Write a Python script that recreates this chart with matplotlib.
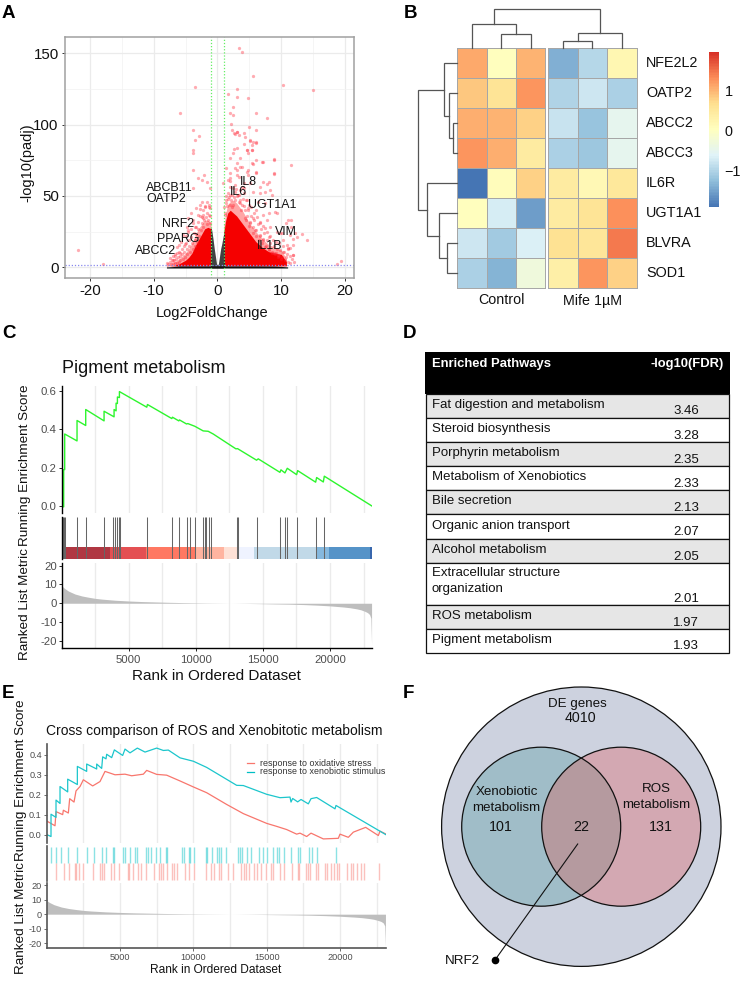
import matplotlib
matplotlib.use('Agg')
import matplotlib.pyplot as plt
import numpy as np
from matplotlib.colors import LinearSegmentedColormap, Normalize
from matplotlib.patches import Circle, Rectangle

plt.rcParams['font.family'] = ['Liberation Sans', 'DejaVu Sans']
plt.rcParams['axes.unicode_minus'] = False

W, H = 741, 981

# ---------- A: volcano ----------
vol_lfc = [3.3,3.9,5.5,10.3,14.9,-3.6,3.1,1.7,3.1,4.8,-5.9,2.5,6,2,2.5,7.7,2.1,5,-3.9,6,3.1,2.6,4.2,-2.9,-3.5,3.4,5.1,5.6,6,
           -3.8,-3.8,2.6,4.6,5.4,8.9,7,11.5,3.6,5.6,-3.8,-2.1,8.8,1.4,3,4.6,-2.5,-1.2,0.9,1.9,7.7,6.7,8.5,-3.8,-21.8,-17.9,18.7,19.3,
           14.1,13.2,11.5,10.7,12.2,11.9,9.8,11.1,11.9,9.3,
           -3,-1.7,-2.4,-2.7,-3.3,-1.7,-4.1,-4.6,-1.2,-2.2,-3,-3.8,-1.4,-2.2,-4.8,-5.4,-6.4,-6.9,-5.9,-7.5,-6.7,-6.1,-4.6,-3.5,-5.1,
           2,3,4.8,6.1,7.2,8.8,8,5.1,6.7,7.5,5.6,4.1,2.5,2,8.2,6.4,7.5,4.8,6.1,7.2,8,9,7.7,5.6,6.7,8.2,9.3,7.5,5.9,10.1,11.1,11.6,10.3,
           10.9,11.4,12.4,11.9,10.3,11.4,11.9,9.5,8.8,8,7.2,6.7,5.1,4.3,3.5,2.7,4.6,3.3,1.4,1.2,
           2.2,3.1,2.7,4.3,5.1,6,4.1,5.4,4.6,5.4,3,2.5,3.5,4.8,2,3,3.8,5.4,6.1,2.7,4.8,2,1.7,3.3,4.1,6.1,7.2,8.9]
vol_p = [153.7,151.2,134.3,127.8,124,126.6,125.2,121.3,119.6,118.9,108.2,112.1,108.2,108,106.8,104.9,100.5,98.6,96,96.3,95,93.9,93.9,92,89.3,92.8,88.8,88.1,87.4,
         82.2,79.9,82.9,82.2,82.2,75.5,74,72,70.6,72.2,68.2,64.7,65.4,69.4,68.2,67,61.2,55.4,58.9,60.7,58.4,51.9,50.7,55.4,12.1,2.1,2.1,4.4,
         19.2,23.4,33.2,30.8,23.8,19.6,23.8,13.3,8.6,37.9,
         62.3,60,46,43.7,41.3,46,37.8,34.3,41.3,40.2,36.6,33.1,36.6,34.3,28.5,22.6,14.5,5.1,9.8,6.3,7.9,15.6,26,28.5,16.3,
         62.3,64.7,64.7,65.9,60,65.9,60,58.8,56.5,53,53,55.3,55.3,50.7,54.2,46,44.8,41.3,40.2,36.6,37.8,39,33.1,34.3,30.8,28.5,25,27.3,26,23.8,33.1,28.5,19.1,
         15.6,22.6,21.5,15.6,11,13.3,8.6,8.6,9.8,21.5,19.1,22.6,30.8,34.3,47.2,47.2,47.2,50.7,44.8,36.6,
         96.2,95,93.4,91.5,89.2,88,86.4,85.7,82.2,82.2,83.4,79.9,76.4,79.9,76.4,72.9,70.5,72.9,75.2,69.3,68.2,65.8,61.2,63.5,58.8,67,74,75.6]
# fringe of the dense cloud, estimated spot by spot
fringe_lfc = [1.1,1.3,1.2,1.4,1.6,1.5,1.7,1.9,1.8,2.1,2.3,2.2,2.0,2.6,2.8,2.5,2.7,3.1,2.9,3.3,3.5,3.2,3.6,3.8,4.0,3.7,3.9,4.3,4.1,4.4,4.2,
              4.6,4.8,4.5,4.9,5.1,5.3,5.0,5.2,5.6,5.8,5.5,5.7,6.1,6.3,6.0,6.2,6.6,6.8,6.5,6.7,7.1,7.3,7.0,7.2,7.6,7.8,7.5,7.7,8.1,8.3,8.0,8.2,
              8.6,8.8,8.5,8.7,9.1,9.3,9.0,9.2,9.6,9.8,9.5,9.7,10.1,10.4,10.0,10.3,10.6,10.9,10.7,11.1,11.0,11.4,11.3,11.7,12.0,
              -1.2,-1.3,-1.1,-1.5,-1.6,-1.4,-1.8,-1.9,-1.7,-2.1,-2.2,-2.0,-2.3,-2.4,-2.5,-2.6,-2.7,-2.8,-2.9,-3.0,-3.1,-3.2,-3.3,-3.4,-3.5,-3.6,-3.7,-3.8,-3.9,-4.0,
              -4.1,-4.2,-4.3,-4.4,-4.5,-4.6,-4.7,-4.8,-4.9,-5.0,-5.1,-5.2,-5.3,-5.4,-5.5,-5.6,-5.7,-5.8,-5.9,-6.0,-6.1,
              -6.2,-6.3,-6.4,-6.5,-6.6,-6.7,-6.8,-6.9,-7.0,-7.1,-7.3,-7.4,-7.7,-7.9]
fringe_p = [42,47,38,50,48,43,52,44,49,47,51,42,56,49,53,44,58,50,55,46,45,51,54,44,48,40,56,40,43,47,52,
            36,40,33,44,32,36,29,42,28,33,24,38,26,30,22,35,22,27,19,32,20,24,17,29,15,19,14,25,13,17,12,22,
            11,15,10,19,10,13,9,18,8,12,7,17,7,11,6,15,5,9,7,13,4,8,3,6,4,
            36,42,31,33,38,44,35,42,30,33,37,43,28,35,31,26,36,41,22,27,32,18,23,28,15,19,24,31,13,17,
            21,27,11,15,19,25,9,13,17,22,7,11,15,6,9,13,18,5,8,11,4,
            7,10,3,6,9,3,5,8,3,5,2,4,2,3]
cloud_r_x = [1,1.3,1.6,2,2.5,3,3.5,4,4.5,5,5.5,6,7,8,9,10,10.8]
cloud_r_in = [25,33,38,40,38,36,33,30,27,24,21,18,14,11,10,9,4]
cloud_r_out = [29,38,44,46,47,45,42,39,35,31,28,25,20,16,14,12,6]
cloud_l_x = [-8,-7,-6,-5,-4.5,-4,-3.5,-3,-2.5,-2,-1.5,-1]
cloud_l_in = [0.8,1.3,2.5,5,7,10,15,19,23,27,28,27]
cloud_l_out = [1.5,3,6,10,13,17,22,27,30,33,33,31]
ns_x = [-1.1,-0.9,-0.7,-0.5,-0.3,-0.15,0,0.15,0.3,0.5,0.7,0.9,1.1]
ns_top = [28,26,20,13,7,2.5,1.5,2.5,7,13,17,22,26]
base_x = [-8,-7,-6,6,9,11]
base_top = [0.3,0.5,1.0,1.0,0.9,0.3]
vol_labels = ['ABCB11','OATP2','NRF2','PPARG','ABCC2','IL8','IL6','UGT1A1','VIM','IL1B']
vol_label_x = [-7.5,-8.1,-6.2,-6.1,-9.7,4.8,3.3,8.6,10.7,8.2]
vol_label_y = [55.4,47.9,30.4,19.9,11.2,60,52.6,43.9,24.5,15]

# ---------- B: heatmap ----------
genes = ['NFE2L2','OATP2','ABCC2','ABCC3','IL6R','UGT1A1','BLVRA','SOD1']
groups = ['Control','Mife 1µM']
heat = np.array([
    [1.10,0.03,1.00,-1.40,-0.95,0.20],
    [0.85,0.60,1.25,-1.00,-0.75,-1.05],
    [1.05,1.00,0.80,-0.80,-1.20,-0.50],
    [1.25,1.05,0.45,-1.05,-1.15,-0.50],
    [-1.90,0.10,0.80,0.45,0.15,0.50],
    [0.05,-0.70,-1.55,0.45,0.60,1.30],
    [-0.75,-1.10,-0.65,0.65,0.55,1.45],
    [-1.05,-1.35,-0.30,0.35,1.25,0.80]])
# dendrogram merges: (low leaf position, high leaf position, height)
top_merges = [(1,2,0.36),(0,1.5,0.63),(3,4,0.19),(3.5,5,0.38),(0.75,4.25,1.0)]
left_merges = [(2,3,0.12),(1,2.5,0.22),(0,1.75,0.34),(6,7,0.25),(5,6.5,0.45),(4,5.75,0.75),(0.875,4.875,1.0)]

# ---------- C ----------
rank_metric_x = [1,50,200,500,1000,1500,2000,2500,3000,4000,5000,6000,7000,8000,9000,10000,11000,12000,12500,13000,
                 14000,15000,16000,17000,18000,19000,20000,21000,21500,22000,22300,22600,22800,22950,23050,23100]
rank_metric_y = [10.5,9,8,6.5,4.9,3.9,3.2,2.6,2.2,1.6,1.2,0.9,0.7,0.5,0.35,0.22,0.12,0.05,0,-0.03,
                 -0.12,-0.25,-0.38,-0.5,-0.7,-1,-1.4,-2,-2.4,-3,-3.5,-4.3,-5,-6,-8,-22]
c_rank = [1,149,149,224,224,1144,1144,1791,1791,3159,3159,3905,3905,4055,4055,4154,4154,4303,4303,6343,6393,8209,8259,8731,8781,
          9304,9403,9925,10547,10920,11294,12985,13110,14528,14652,16269,16344,16642,16816,17513,17587,18931,19005,19503,19577,23110]
c_es = [-0.003,-0.003,0.19,0.19,0.375,0.339,0.445,0.419,0.502,0.443,0.493,0.464,0.502,0.495,0.535,0.533,0.567,0.564,0.595,0.514,0.528,
        0.455,0.462,0.443,0.448,0.427,0.429,0.415,0.391,0.389,0.375,0.298,0.299,0.239,0.246,0.176,0.189,0.173,0.197,0.164,0.185,0.125,0.149,0.126,0.156,0.002]
c_hits = [50,100,149,224,1119,1791,3134,3856,4005,4129,4254,4353,6393,8209,8756,9328,9552,9950,10547,10647,10721,10995,11095,13060,13159,
          14577,16269,16667,16816,17563,18956,19528]
band_edges = [1,200,3582,6269,10000,12090,13186,14328,18931,19950,22985,23110]
band_colors = ['#7a1420','#ab2a36','#e34548','#ff7058','#ffb09a','#fee0d4','#eff3ff','#bdd7e7','#7db4dc','#4a8cc5','#2b5da8']

# ---------- D ----------
pathways = ['Fat digestion and metabolism','Steroid biosynthesis','Porphyrin metabolism','Metabolism of Xenobiotics','Bile secretion',
            'Organic anion transport','Alcohol metabolism','Extracellular structure\norganization','ROS metabolism','Pigment metabolism']
fdr = ['3.46','3.28','2.35','2.33','2.13','2.07','2.05','2.01','1.97','1.93']

# ---------- E ----------
teal_rank = [1,295,295,636,636,909,909,1432,1432,2091,2091,2727,2727,3409,3409,3750,3818,4045,4091,4432,4614,5182,5341,5682,6182,6705,7500,7955,
             8295,9091,10000,10909,12955,13409,15000,15909,16591,16659,16773,17114,17341,17841,18023,18409,19659,19727,23113]
teal_es = [0,-0.010,0.102,0.086,0.173,0.156,0.241,0.214,0.278,0.251,0.342,0.317,0.354,0.329,0.354,0.332,0.390,0.380,0.403,0.386,0.425,0.397,0.429,0.410,
           0.434,0.414,0.434,0.422,0.424,0.385,0.368,0.337,0.247,0.246,0.202,0.185,0.188,0.163,0.181,0.164,0.176,0.154,0.180,0.186,0.129,0.146,0]
red_rank = [1,568,636,1091,1136,1477,1568,1864,2000,2273,2500,3136,3636,3977,4659,5341,5795,6591,6818,7500,8182,9091,10000,10909,12273,13409,15000,
            15682,16364,17045,17273,17727,18023,18864,19886,20000,20568,20909,21750,22614,22727,23113]
red_es = [0.068,0.044,0.115,0.100,0.122,0.108,0.180,0.163,0.219,0.241,0.275,0.244,0.266,0.317,0.300,0.303,0.295,0.303,0.322,0.302,0.298,0.269,0.239,0.210,
          0.151,0.105,0.056,0.041,0.025,0.002,0.007,-0.010,0.007,-0.022,-0.019,0.002,-0.014,0.012,0.036,-0.005,0.017,0.003]
teal_hits = [296,637,955,1478,2092,2728,3250,3773,4046,4501,4592,5228,5365,5683,6024,6137,6774,6887,7115,7433,7728,8115,8206,9206,9388,9706,9774,10047,
             10842,10956,11274,11591,11750,11909,12204,13068,13182,13341,13659,13954,14477,14773,15046,15455,15682,15841,16182,16682,17114,17296,17909,18114,18409,19750]
red_hits = [614,1183,1546,1910,2001,2228,2501,3183,3637,3774,3910,4365,4592,4956,5569,5638,5910,6251,6410,6774,7320,7638,7774,7911,8183,8547,8683,8865,9434,9706,
            10070,10843,11184,11411,11752,11909,12341,12727,13227,13477,13568,13818,14159,14318,14591,14932,15295,15409,15909,16182,16750,17114,17205,17682,17841,17955,
            18364,18523,18955,19137,19410,19569,19818,19955,20455,20728,20910,21137,21409,21660,22683]

# ---------- F ----------
venn_titles = ['DE genes','Xenobiotic\nmetabolism','ROS\nmetabolism']
venn_counts = ['4010','101','22','131']


fig = plt.figure(figsize=(W/100, H/100), dpi=100, facecolor='white')

def pax(x0, y0, x1, y1, **kw):
    return fig.add_axes([x0/W, 1-y1/H, (x1-x0)/W, (y1-y0)/H], **kw)

ov = fig.add_axes([0, 0, 1, 1], zorder=20)
ov.set_xlim(0, W); ov.set_ylim(H, 0); ov.axis('off'); ov.patch.set_alpha(0)

for t, x, y in [('A',2,14),('B',404,14),('C',2,334),('D',403,333),('E',2,693),('F',403,693)]:
    ov.text(x, y, t, fontsize=13.5, fontweight='bold', va='center', ha='left', color='black')

# A
ax = pax(65, 37, 354, 278)
ax.set_xlim(-23.9, 21.4); ax.set_ylim(-7.5, 161.4)
ax.set_xticks([-20,-10,0,10,20]); ax.set_yticks([0,50,100,150])
ax.set_xticks([-15,-5,5,15], minor=True); ax.set_yticks([25,75,125], minor=True)
ax.grid(True, which='major', color='#ebebeb', lw=0.9); ax.grid(True, which='minor', color='#f2f2f2', lw=0.5)
ax.set_axisbelow(True)
ax.tick_params(which='minor', length=0)
ax.tick_params(which='major', labelsize=10.8, length=2.5, color='#333333', width=0.7, pad=2, labelcolor='#111111')
for s in ax.spines.values():
    s.set_color('#a0a0a0'); s.set_linewidth(1.1)
ax.fill_between(cloud_r_x, 1.0, cloud_r_out, color='#ff0000', alpha=0.35, lw=0)
ax.fill_between(cloud_l_x, 1.0, cloud_l_out, color='#ff0000', alpha=0.35, lw=0)
ax.fill_between(cloud_r_x, 1.0, cloud_r_in, color='#f50000', lw=0)
ax.fill_between(cloud_l_x, 1.0, cloud_l_in, color='#f50000', lw=0)
ax.scatter(fringe_lfc, fringe_p, s=5.5, color='#ff2030', alpha=0.38, lw=0)
ax.scatter(vol_lfc, vol_p, s=5.5, color='#ff3040', alpha=0.4, lw=0)
ax.fill_between(ns_x, -0.5, ns_top, color='#111111', alpha=0.8, lw=0)
ax.fill_between(base_x, -0.5, base_top, color='#111111', lw=0)
ax.axvline(-1, color='#66ee66', lw=0.9, ls=(0,(1,1.5)))
ax.axvline(1, color='#66ee66', lw=0.9, ls=(0,(1,1.5)))
ax.axhline(1.3, color='#8888ee', lw=0.9, ls=(0,(1,1.5)))
for t, x, y in zip(vol_labels, vol_label_x, vol_label_y):
    ax.text(x, y, t, fontsize=8.9, ha='center', va='center', color='#111111')
ov.text(212, 313, 'Log2FoldChange', fontsize=10.5, ha='center', va='center', color='#111111')
ov.text(27, 163, '-log10(padj)', fontsize=10.5, ha='center', va='center', rotation=90, color='#111111')

# B
cmap = LinearSegmentedColormap.from_list('rdylbu', ['#4575B4','#91BFDB','#E0F3F8','#FFFFBF','#FEE090','#FC8D59','#D73027'], N=100)
norm = Normalize(-1.91, 1.97)
for j, (x0, x1, sl) in enumerate([(457.3,545.3,(0,3)),(548.3,636.7,(3,6))]):
    a = pax(x0, 48.3, x1, 288.3)
    a.pcolormesh(heat[:, sl[0]:sl[1]], cmap=cmap, norm=norm, edgecolors='#a6a6a6', linewidth=0.7)
    a.set_ylim(8, 0); a.set_xticks([]); a.set_yticks([])
    for s in a.spines.values():
        s.set_color('#a6a6a6'); s.set_linewidth(0.7)
    ov.text((x0+x1)/2, 300.5, groups[j], fontsize=10.3, ha='center', va='center', color='#111111')
for i, g in enumerate(genes):
    ov.text(646, 63.3+30*i, g, fontsize=10.4, ha='left', va='center', color='#111111')
col_x = [472,501.3,530.7,563,592.3,621.7]
def cx(p):
    lo = int(np.floor(p)); hi = min(lo+1, 5)
    return col_x[lo] + (p-lo)*(col_x[hi]-col_x[lo])
def h2y(h): return 48.3 - 39.3*h
def draw_merge(axis, a, b, h, table, pos, h2):
    pa, pb = pos(a), pos(b)
    ha, hb = h2(table.get(a, 0)), h2(table.get(b, 0))
    hh = h2(h)
    if axis == 'top':
        ov.plot([pa,pa,pb,pb],[ha,hh,hh,hb],color='#555555',lw=0.9,solid_joinstyle='miter')
    else:
        ov.plot([ha,hh,hh,hb],[pa,pa,pb,pb],color='#555555',lw=0.9,solid_joinstyle='miter')
    table[(a+b)/2] = h
tb = {}
for a_, b_, h_ in top_merges:
    draw_merge('top', a_, b_, h_, tb, cx, h2y)
tl = {}
for a_, b_, h_ in left_merges:
    draw_merge('left', a_, b_, h_, tl, lambda p: 63.3+30*p, lambda h: 457.3-(457.3-417.5)*h)
cb = pax(709, 51.7, 719, 207.3)
sm = plt.cm.ScalarMappable(norm=norm, cmap=cmap)
c = fig.colorbar(sm, cax=cb)
c.outline.set_visible(False)
c.set_ticks([-1,0,1]); c.set_ticklabels(['\u22121','0','1'])
cb.tick_params(length=0, labelsize=10.4, pad=4, labelcolor='#111111')

# GSEA helpers
def grid25(a, ticks):
    a.set_xticks(ticks)
    a.grid(True, axis='x', color='#ebebeb', lw=1.0)
    a.set_axisbelow(True)

grid_ticks = list(range(2500, 23000, 2500))
label_ticks = [5000,10000,15000,20000]

def finish(a, color, tick_labelsize, lw=1.0, pad=1.5):
    for s in ['top','right']:
        a.spines[s].set_visible(False)
    for s in a.spines.values():
        s.set_color(color); s.set_linewidth(lw)
    a.tick_params(labelsize=tick_labelsize, labelcolor='#4d4d4d', color=color, length=2, width=0.6, pad=pad)

# C
XL = (1, 23110)
a1 = pax(61.7, 386, 371.7, 513)
a1.set_xlim(*XL); a1.set_ylim(-0.035, 0.624)
grid25(a1, grid_ticks); a1.set_yticks([0,0.2,0.4,0.6])
a1.plot(c_rank, c_es, color='#2df52d', lw=1.0)
finish(a1, 'black', 8.2); a1.spines['bottom'].set_visible(False)
a1.tick_params(axis='x', length=0, labelbottom=False)
a2 = pax(61.7, 517.3, 371.7, 559.3)
a2.set_xlim(*XL); a2.set_ylim(0, 1)
a2.vlines(c_hits, 0, 1, color='#666666', lw=0.75)
for i, col in enumerate(band_colors):
    a2.axvspan(band_edges[i], band_edges[i+1], 0, 0.30, color=col, alpha=0.94, lw=0)
a2.set_xticks([]); a2.set_yticks([])
finish(a2, 'black', 8.2); a2.spines['bottom'].set_visible(False)
a3 = pax(61.7, 563.3, 371.7, 647.7)
a3.set_xlim(*XL); a3.set_ylim(-23.7, 21.3)
a3.set_xticks(label_ticks); a3.set_xticks([t for t in grid_ticks if t not in label_ticks], minor=True)
a3.grid(True, axis='x', which='both', color='#ebebeb', lw=1.0); a3.set_axisbelow(True)
a3.set_yticks([-20,-10,0,10,20])
a3.fill_between(rank_metric_x, 0, rank_metric_y, color='#bebebe', lw=0)
finish(a3, 'black', 8.2, pad=1.5); a3.tick_params(which='minor', length=0)
a3.tick_params(axis='x', pad=3.5)
ov.text(62, 368.5, 'Pigment metabolism', fontsize=13, ha='left', va='center', color='#111111')
ov.text(25.5, 465, 'Running Enrichment Score', fontsize=9.7, rotation=90, ha='center', va='center', color='#111111')
ov.text(25.5, 604, 'Ranked List Metric', fontsize=9.7, rotation=90, ha='center', va='center', color='#111111')
ov.text(216.7, 676, 'Rank in Ordered Dataset', fontsize=11, ha='center', va='center', color='#111111')

# D
edges = [394,417.7,442,466,490.3,514.3,538.7,563,605,629.3,652.7]
ov.add_patch(Rectangle((425.3,351.7),304.7,42.3,color='black',lw=0))
for i, (n, v) in enumerate(zip(pathways, fdr)):
    y0, y1 = edges[i], edges[i+1]
    ov.add_patch(Rectangle((426,y0),303.3,y1-y0,facecolor='#e6e6e6' if i%2==0 else 'white',edgecolor='#111111',lw=0.9))
    if '\n' in n:
        ov.text(431.5, y0+3.8, n, fontsize=9.55, ha='left', va='top', color='#111111', linespacing=1.45)
    else:
        ov.text(431.5, y0+11.2, n, fontsize=9.55, ha='left', va='center', color='#111111')
    ov.text(686, y1-6.3, v, fontsize=9.55, ha='center', va='center', color='#111111')
ov.text(431.5, 363.5, 'Enriched Pathways', fontsize=9.4, fontweight='bold', color='white', ha='left', va='center')
ov.text(724, 363.5, '-log10(FDR)', fontsize=9.4, fontweight='bold', color='white', ha='right', va='center')

# E
XE = (1, 23116)
e1 = pax(46.7, 744.3, 385.7, 843.3)
e1.set_xlim(*XE); e1.set_ylim(-0.044, 0.453)
grid25(e1, grid_ticks); e1.set_yticks([0,0.1,0.2,0.3,0.4])
e1.plot(red_rank, red_es, color='#F8766D', lw=0.9)
e1.plot(teal_rank, teal_es, color='#1cc6cc', lw=0.9)
finish(e1, '#555555', 6.6, 1.2); e1.spines['bottom'].set_visible(False)
e1.tick_params(axis='x', length=0, labelbottom=False)
e2 = pax(46.7, 845.7, 385.7, 881)
e2.set_xlim(*XE); e2.set_ylim(0, 2)
e2.vlines(teal_hits, 1.03, 1.95, color='#00BFC4', lw=1.0, alpha=0.45)
e2.vlines(red_hits, 0.05, 1.0, color='#F8766D', lw=1.0, alpha=0.45)
e2.set_xticks([]); e2.set_yticks([])
finish(e2, '#555555', 6.6, 1.2); e2.spines['bottom'].set_visible(False)
e3 = pax(46.7, 882.7, 385.7, 948.3)
e3.set_xlim(*XE); e3.set_ylim(-23.4, 21.6)
e3.set_xticks(label_ticks); e3.set_xticks([t for t in grid_ticks if t not in label_ticks], minor=True)
e3.grid(True, axis='x', which='both', color='#ebebeb', lw=1.0); e3.set_axisbelow(True)
e3.set_yticks([-20,-10,0,10,20])
e3.fill_between(rank_metric_x, 0, rank_metric_y, color='#bebebe', lw=0)
finish(e3, '#555555', 6.6, 1.2); e3.tick_params(which='minor', length=0)
ov.text(214, 731.5, 'Cross comparison of ROS and Xenobitotic metabolism', fontsize=10, ha='center', va='center', color='#111111')
ov.text(21.5, 780, 'Running Enrichment Score', fontsize=9.7, rotation=90, ha='center', va='center', color='#111111')
ov.text(21.5, 918, 'Ranked List Metric', fontsize=9.7, rotation=90, ha='center', va='center', color='#111111')
ov.text(216, 970, 'Rank in Ordered Dataset', fontsize=8.6, ha='center', va='center', color='#111111')
for y, col, t in [(763.3,'#F8766D','response to oxidative stress'),(771.7,'#00BFC4','response to xenobiotic stimulus')]:
    ov.plot([246.7,254],[y,y],color=col,lw=0.9)
    ov.text(260, y, t, fontsize=6.4, ha='left', va='center', color='#333333')

# F
ov.add_patch(Circle((581.3,826.7),139.7,facecolor='#cdd2df',edgecolor='#111111',lw=0.9))
cl = Circle((541.2,826.7),79.5,facecolor='#a0bdc8',edgecolor='none')
cr = Circle((621.2,826.7),79.5,facecolor='#d3a8b2',edgecolor='none')
ov.add_patch(cl); ov.add_patch(cr)
cm = Circle((621.2,826.7),79.5,facecolor='#b59a9f',edgecolor='none')
ov.add_patch(cm); cm.set_clip_path(Circle((541.2,826.7),79.5,transform=ov.transData))
ov.add_patch(Circle((541.2,826.7),79.5,facecolor='none',edgecolor='#111111',lw=0.9))
ov.add_patch(Circle((621.2,826.7),79.5,facecolor='none',edgecolor='#111111',lw=0.9))
ov.plot([577.7,495],[844,960],color='#111111',lw=0.8)
ov.plot([495],[960],'o',color='black',ms=4.5)
ov.text(577.7, 703.5, venn_titles[0], fontsize=9.6, ha='center', va='center', color='#111111')
ov.text(580.7, 717.7, venn_counts[0], fontsize=10.3, ha='center', va='center', color='#111111')
ov.text(506.7, 800, venn_titles[1], fontsize=9.6, ha='center', va='center', color='#111111', linespacing=1.45)
ov.text(501, 827.3, venn_counts[1], fontsize=10.3, ha='center', va='center', color='#111111')
ov.text(581, 827.3, venn_counts[2], fontsize=10.3, ha='center', va='center', color='#111111')
ov.text(656.7, 797, venn_titles[2], fontsize=9.6, ha='center', va='center', color='#111111', linespacing=1.45)
ov.text(660.7, 827.3, venn_counts[3], fontsize=10.3, ha='center', va='center', color='#111111')
ov.text(462.3, 961, 'NRF2', fontsize=9.6, ha='center', va='center', color='#111111')

fig.savefig('out.png', dpi=100, facecolor='white')
